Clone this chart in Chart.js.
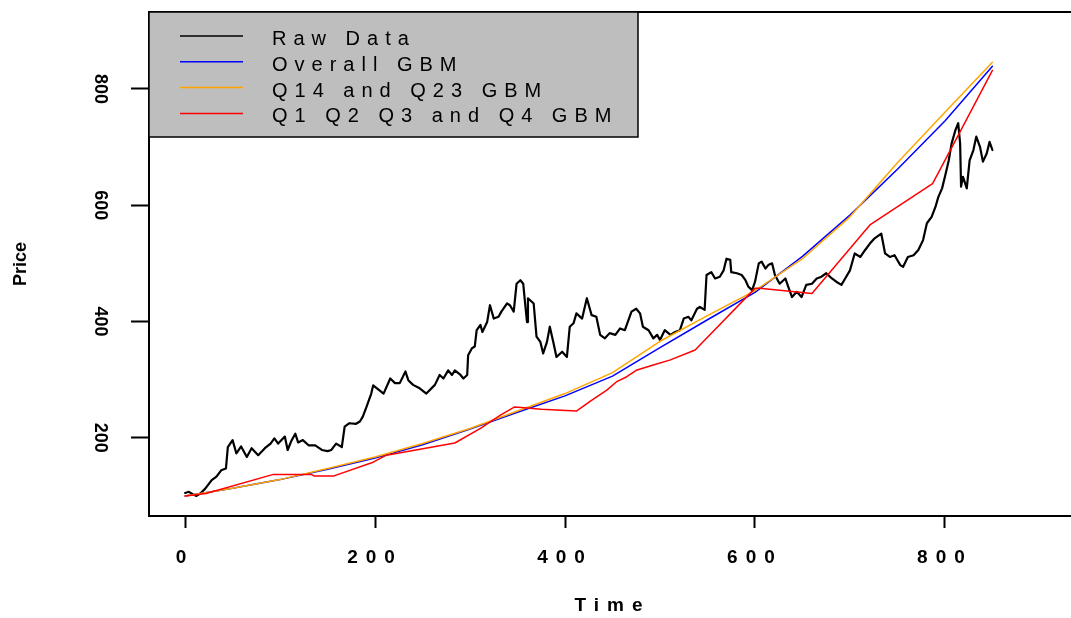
<!DOCTYPE html>
<html>
<head>
<meta charset="utf-8">
<script src="https://cdn.jsdelivr.net/npm/chart.js@4"></script>
<style>
  html, body { margin: 0; padding: 0; background: #fff; overflow: hidden; }
  #wrap { position: relative; width: 1080px; height: 618px; }
</style>
</head>
<body>
<div id="wrap"><canvas id="c"></canvas></div>
<script>
// Axis ticks
const xTickValues = [0, 200, 400, 600, 800];
const yTickValues = [200, 400, 600, 800];

// Observed price series (time index, price)
const rawTime = [0,4,8,12,16,21,28,33,38,43,45,50,54,59,65,70,77,84,90,94,98,105,108,112,116,119,124,130,137,144,150,154,159,165,168,173,180,184,187,191,196,198,202,209,216,221,226,232,235,240,247,254,263,268,272,277,281,284,290,293,297,298,302,305,307,311,313,318,321,325,330,333,339,342,346,349,353,356,358,360,361,367,370,374,377,381,384,388,391,397,402,405,409,412,418,423,428,433,437,442,447,453,458,463,470,475,479,482,488,493,497,500,505,511,516,521,525,530,533,539,542,547,549,554,558,563,567,570,574,575,581,586,590,593,597,600,604,607,611,614,618,621,626,632,635,639,644,649,654,660,665,670,675,681,686,691,695,700,705,711,716,721,726,733,737,742,747,753,756,761,767,772,777,781,786,790,793,797,800,804,807,811,814,816,817,819,823,826,830,833,837,840,844,847,850];
const rawPrice = [105,107,103,100,104,112,127,133,144,147,184,196,173,185,167,182,170,182,190,199,190,202,179,195,207,192,196,187,187,179,177,179,190,184,219,225,224,228,236,253,276,290,285,276,302,294,294,314,299,291,285,276,291,308,302,316,308,316,308,302,308,342,354,357,385,394,382,399,428,405,408,417,431,428,417,465,471,465,431,399,440,431,374,365,345,365,391,362,339,348,339,391,397,414,405,440,411,408,377,371,380,377,388,385,417,422,414,391,385,371,377,368,385,377,382,385,405,408,402,422,425,420,480,485,474,477,488,508,506,485,483,480,471,460,454,468,500,503,491,497,500,480,465,474,460,442,451,442,463,465,474,477,483,474,468,463,474,488,517,511,523,534,543,551,517,511,514,497,494,511,514,523,540,569,580,597,614,629,649,677,706,729,741,706,632,649,629,677,695,718,700,675,689,709,695];

// Fitted GBM paths
const gbmTime = [0,50,100,150,200,250,300,350,400,450,500,550,600,650,700,750,800,850];
const overallGbm = [100,113,128,146,165,188,215,244,272,306,355,403,450,512,583,662,745,839];
const pairGbm = [100,113,128,147,167,190,216,246,276,312,366,410,453,508,580,673,760,846];

const quarterTime = [0,22,93,133,136,156,198,212,284,311,332,347,354,375,412,426,444,454,465,475,493,511,537,600,605,660,721,787,812,850];
const quarterGbm = [100,104,137,137,134,134,158,170,191,216,239,253,252,249,246,262,282,296,305,316,325,334,351,457,457,448,566,637,714,832];

// Axis limits
const xMin = -38, xMax = 938;
const yMin = 65.4, yMax = 932.4;

const FAMILY = "'Liberation Sans', Arial, Helvetica, sans-serif";
Chart.defaults.font.family = FAMILY;
Chart.defaults.color = '#000';

const toPoints = (xs, ys) => xs.map((x, i) => ({ x: x, y: ys[i] }));

// Wide letter spacing for the time axis text; price axis is drawn unspaced after the datasets
const spacing = {
  id: 'spacing',
  beforeDraw(chart) { chart.ctx.letterSpacing = '8px'; },
  beforeDatasetsDraw(chart) { chart.ctx.letterSpacing = '0px'; }
};

// Top edge of the plot box
const frame = {
  id: 'frame',
  afterDraw(chart) {
    const { ctx, chartArea: a } = chart;
    ctx.save();
    ctx.strokeStyle = '#000';
    ctx.lineWidth = 2;
    ctx.beginPath();
    ctx.moveTo(a.left - 1, a.top);
    ctx.lineTo(a.right, a.top);
    ctx.lineTo(a.right, a.bottom);
    ctx.stroke();
    ctx.restore();
  }
};

// Grey legend box in the upper-left corner of the plot
const boxLegend = {
  id: 'boxLegend',
  afterDraw(chart) {
    const { ctx, chartArea: a } = chart;
    const x0 = a.left, y0 = a.top, w = 489, h = 125;
    ctx.save();
    ctx.fillStyle = '#BEBEBE';
    ctx.fillRect(x0, y0, w, h);
    ctx.strokeStyle = '#000';
    ctx.lineWidth = 1.5;
    ctx.strokeRect(x0, y0, w, h);
    ctx.font = '20px ' + FAMILY;
    ctx.letterSpacing = '7px';
    ctx.textAlign = 'left';
    ctx.textBaseline = 'alphabetic';
    chart.data.datasets.forEach((ds, i) => {
      const y = y0 + 24 + i * 25.8;
      ctx.strokeStyle = ds.borderColor;
      ctx.lineWidth = 1.5;
      ctx.beginPath();
      ctx.moveTo(x0 + 31, y);
      ctx.lineTo(x0 + 94, y);
      ctx.stroke();
      ctx.fillStyle = '#000';
      ctx.fillText(ds.label, x0 + 123, y + 9);
    });
    ctx.restore();
  }
};

new Chart(document.getElementById('c'), {
  type: 'line',
  data: {
    datasets: [
      { label: 'Raw Data', data: toPoints(rawTime, rawPrice), borderColor: '#000000', borderWidth: 2.2, order: 4 },
      { label: 'Overall GBM', data: toPoints(gbmTime, overallGbm), borderColor: '#0000FF', borderWidth: 1.5, order: 3 },
      { label: 'Q14 and Q23 GBM', data: toPoints(gbmTime, pairGbm), borderColor: '#FFA500', borderWidth: 1.5, order: 2 },
      { label: 'Q1 Q2 Q3 and Q4 GBM', data: toPoints(quarterTime, quarterGbm), borderColor: '#FF0000', borderWidth: 1.5, order: 1 }
    ]
  },
  options: {
    responsive: true,
    maintainAspectRatio: false,
    animation: false,
    devicePixelRatio: 1,
    layout: { padding: { top: 12, right: 4, left: 0, bottom: 0 } },
    elements: {
      point: { radius: 0, hoverRadius: 0 },
      line: { tension: 0, fill: false, borderCapStyle: 'round', borderJoinStyle: 'round' }
    },
    plugins: { legend: { display: false }, tooltip: { enabled: false } },
    scales: {
      x: {
        type: 'linear',
        min: xMin,
        max: xMax,
        afterBuildTicks: s => { s.ticks = xTickValues.map(v => ({ value: v })); },
        afterFit: s => { s.height = 102; s.paddingLeft = 0; s.paddingRight = 0; },
        grid: { display: true, drawOnChartArea: false, drawTicks: true, tickLength: 12, tickColor: '#000', tickWidth: 2 },
        border: { display: true, color: '#000', width: 2 },
        ticks: { autoSkip: false, maxRotation: 0, padding: 18, color: '#000', font: { size: 19, weight: 'bold' } },
        title: { display: true, text: 'Time', color: '#000', font: { size: 19, weight: 'bold' }, padding: { top: 0, bottom: 1 } }
      },
      y: {
        type: 'linear',
        min: yMin,
        max: yMax,
        afterBuildTicks: s => { s.ticks = yTickValues.map(v => ({ value: v })); },
        afterFit: s => { s.width = 149; s.paddingTop = 0; s.paddingBottom = 0; },
        grid: { z: 1, display: true, drawOnChartArea: false, drawTicks: true, tickLength: 18, tickColor: '#000', tickWidth: 2 },
        border: { display: true, color: '#000', width: 2, z: 1 },
        ticks: { z: 1, autoSkip: false, minRotation: -90, maxRotation: -90, crossAlign: 'center', padding: 16, color: '#000', font: { size: 18, weight: 'bold' } },
        title: { display: true, text: 'Price', color: '#000', font: { size: 18, weight: 'bold' }, padding: { top: 10, bottom: 0 } }
      }
    }
  },
  plugins: [spacing, frame, boxLegend]
});
</script>
</body>
</html>
